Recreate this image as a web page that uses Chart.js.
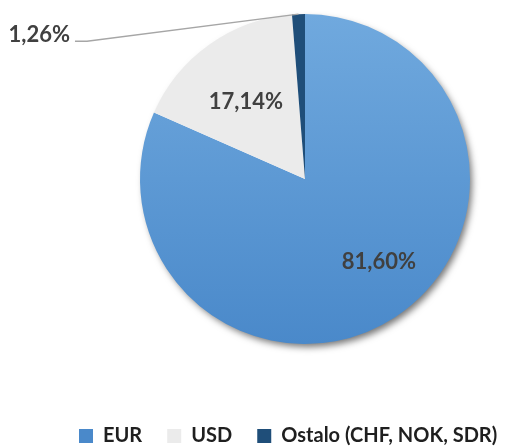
<!DOCTYPE html>
<html>
<head>
<meta charset="utf-8">
<script src="https://cdn.jsdelivr.net/npm/chart.js@4.4.1/dist/chart.umd.min.js"></script>
<style>
  html, body { margin:0; padding:0; background:#fff; }
  #wrap { width:509px; height:446px; }
</style>
</head>
<body>
<div id="wrap"><canvas id="chart" width="509" height="446"></canvas></div>
<script>
// valutna struktura
const categories = ['EUR', 'USD', 'Ostalo (CHF, NOK, SDR)'];
const shares = [81.60, 17.14, 1.26];
const shareLabels = ['81,60%', '17,14%', '1,26%'];
const sliceColors = ['#5b9bd5', '#ebebeb', '#1f4e79'];

const FONT = 'Lato, "Open Sans", sans-serif';
const LABEL_COLOR = '#404040';
const SHIFT_X = 50.5;   // krug nije centriran na platnu
const LEGEND_PAD = 25;
const LEGEND_X = 79 - LEGEND_PAD;

function sliceFill(ctx){
  const i = ctx.dataIndex;
  if (i !== 0) return sliceColors[i];
  const { chart } = ctx;
  const area = chart.chartArea;
  if (!area || !isFinite(area.top)) return sliceColors[0];
  const g = chart.ctx.createLinearGradient(0, area.top, 0, area.bottom);
  g.addColorStop(0, '#70a9de');
  g.addColorStop(1, '#4a89ca');
  return g;
}

// pomak podrucja grafa i legende
const shiftPlugin = {
  id: 'shiftArea',
  afterLayout(chart){
    const a = chart.chartArea;
    a.left += SHIFT_X; a.right += SHIFT_X;
    const lg = chart.legend;
    if (lg) { lg.left += LEGEND_X; lg.right += LEGEND_X; lg.top += 10; lg.bottom += 10; }
  }
};

// sjena ispod kruga
const shadowPlugin = {
  id: 'pieShadow',
  beforeDatasetsDraw(chart){
    const arc = chart.getDatasetMeta(0).data[0];
    if (!arc) return;
    const c = chart.ctx;
    c.save();
    c.shadowColor = 'rgba(0,0,0,0.55)';
    c.shadowBlur = 7;
    c.shadowOffsetX = 3;
    c.shadowOffsetY = 4;
    c.fillStyle = '#ffffff';
    c.beginPath();
    c.arc(arc.x, arc.y, arc.outerRadius - 1, 0, Math.PI * 2);
    c.fill();
    c.restore();
  }
};

// oznake postotaka
const labelFrac = [0.673, 0.588];
const labelTurn = [-0.15, -0.037];
const labelPlugin = {
  id: 'shareLabels',
  afterDatasetsDraw(chart){
    const c = chart.ctx;
    const meta = chart.getDatasetMeta(0);
    c.save();
    c.font = 'bold 22px ' + FONT;
    c.fillStyle = LABEL_COLOR;
    c.textBaseline = 'middle';
    meta.data.forEach((arc, i) => {
      const mid = (arc.startAngle + arc.endAngle) / 2;
      const r = arc.outerRadius;
      if (i === 2) {
        // vanjska oznaka s linijom
        const px = arc.x + Math.cos(mid) * r;
        const py = arc.y + Math.sin(mid) * r;
        const ex = px - 223.5, ey = py + 27;
        c.strokeStyle = '#a6a6a6';
        c.lineWidth = 1.5;
        c.beginPath();
        c.moveTo(px, py);
        c.lineTo(ex + 12, ey);
        c.lineTo(ex, ey);
        c.stroke();
        c.textAlign = 'right';
        c.fillText(shareLabels[i], ex - 5, ey - 6);
      } else {
        const a = mid + labelTurn[i];
        c.textAlign = 'center';
        c.fillText(shareLabels[i], arc.x + Math.cos(a) * r * labelFrac[i], arc.y + Math.sin(a) * r * labelFrac[i]);
      }
    });
    c.restore();
  }
};

new Chart(document.getElementById('chart'), {
  type: 'pie',
  data: {
    labels: categories,
    datasets: [{
      data: shares,
      backgroundColor: sliceFill,
      borderWidth: 0
    }]
  },
  options: {
    responsive: false,
    animation: false,
    layout: { padding: { top: 14, left: 0, right: 0, bottom: 0 } },
    plugins: {
      tooltip: { enabled: false },
      legend: {
        position: 'bottom',
        align: 'start',
        title: { display: true, text: '', padding: 0, font: { size: 47, lineHeight: 1 } },
        labels: {
          boxWidth: 14,
          boxHeight: 14,
          padding: LEGEND_PAD,
          color: '#1f1f1f',
          font: { family: FONT, size: 20, weight: 'bold' }
        }
      }
    }
  },
  plugins: [shiftPlugin, shadowPlugin, labelPlugin]
});
</script>
</body>
</html>
